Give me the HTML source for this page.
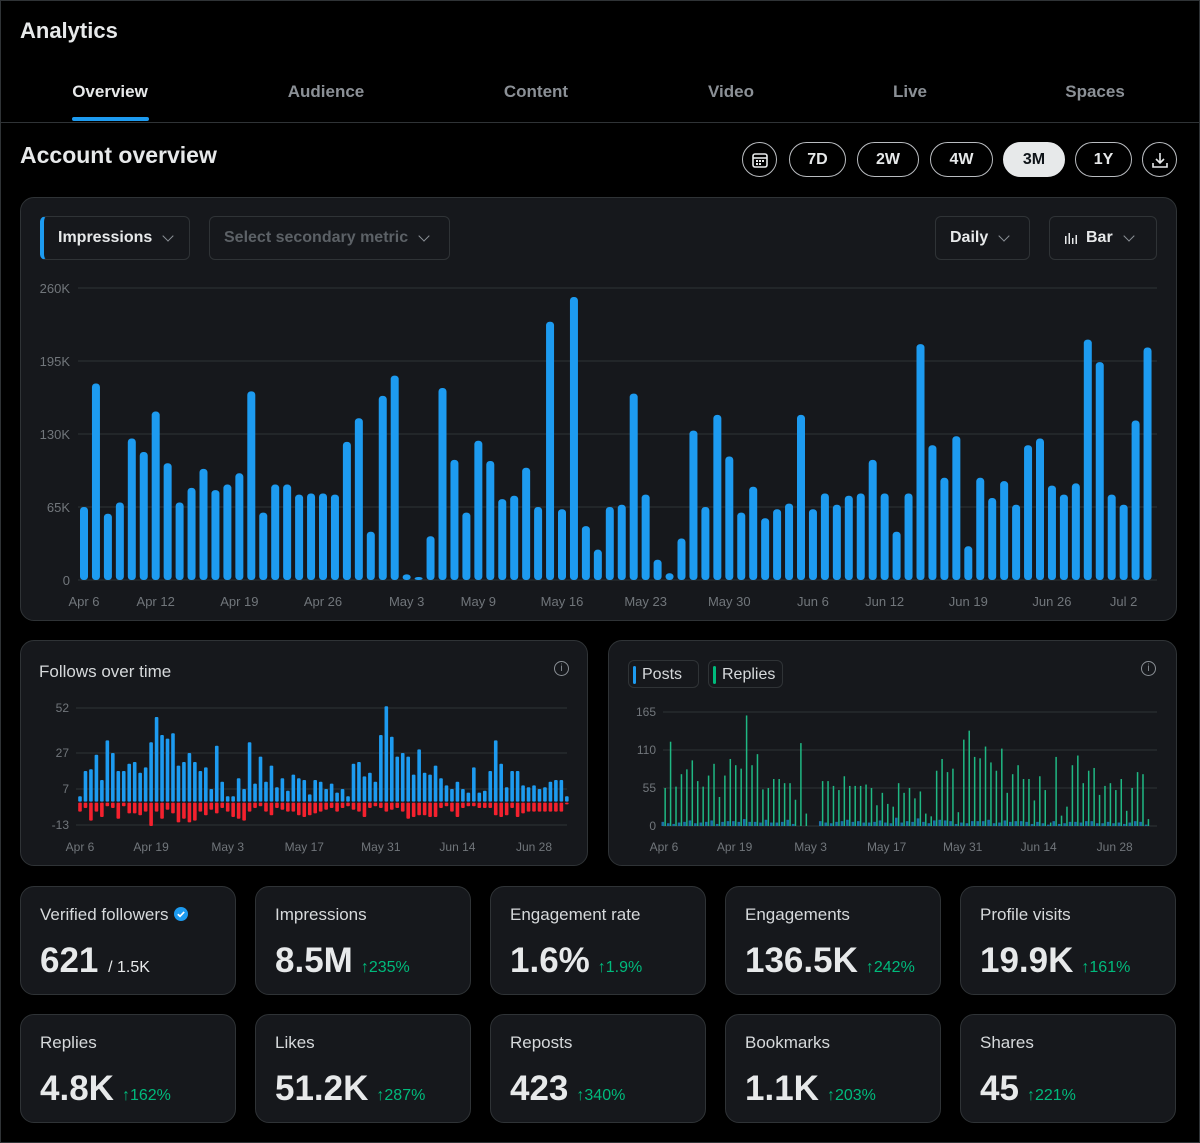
<!DOCTYPE html>
<html><head><meta charset="utf-8">
<style>
*{box-sizing:border-box;margin:0;padding:0}
body{width:1200px;height:1143px;background:#000;color:#e7e9ea;font-family:"Liberation Sans",sans-serif;position:relative;overflow:hidden}
.frame{position:absolute;left:0;top:0;width:1200px;height:1143px;border:1px solid #2f3336}
.abs{position:absolute}
.tab{position:absolute;top:82px;font-size:17px;color:#8b9096;transform:translateX(-50%);font-weight:bold}
.pill{position:absolute;top:142px;height:35px;border:1.5px solid #b9bcc0;border-radius:18px;font-weight:bold;font-size:16px;display:flex;align-items:center;justify-content:center;color:#e7e9ea}
.circ{position:absolute;top:142px;width:35px;height:35px;border:1.5px solid #b9bcc0;border-radius:50%;display:flex;align-items:center;justify-content:center}
.card{position:absolute;background:#16181c;border:1px solid #2f3336;border-radius:14px}
.dd{position:absolute;top:216px;height:44px;border:1px solid #2f3336;border-radius:6px;font-size:16px;font-weight:bold;display:flex;align-items:center;padding-left:14px}
.chev{display:inline-block;width:8px;height:8px;border-right:1.5px solid #8b9096;border-bottom:1.5px solid #8b9096;transform:rotate(45deg);margin-left:12px;margin-top:-5px}
.stat .lbl{position:absolute;left:19px;top:18px;font-size:17px;color:#d6d9db}
.stat .val{position:absolute;left:19px;top:54px;font-size:35px;font-weight:bold;color:#e7e9ea;white-space:nowrap}
.stat .chg{font-size:16px;color:#00ba7c;font-weight:normal;margin-left:8px}
svg text{font-family:"Liberation Sans",sans-serif}
</style></head><body>
<div class="frame"></div>
<div class="abs" style="left:20px;top:18px;font-size:22px;font-weight:bold">Analytics</div>
<div class="tab" style="left:110px;color:#e7e9ea">Overview</div>
<div class="tab" style="left:326px">Audience</div>
<div class="tab" style="left:536px">Content</div>
<div class="tab" style="left:731px">Video</div>
<div class="tab" style="left:910px">Live</div>
<div class="tab" style="left:1095px">Spaces</div>
<div class="abs" style="left:72px;top:117px;width:77px;height:4px;background:#1d9bf0;border-radius:2px"></div>
<div class="abs" style="left:0;top:122px;width:1200px;height:1px;background:#2f3336"></div>

<div class="abs" style="left:20px;top:142px;font-size:23px;font-weight:bold">Account overview</div>
<div class="circ" style="left:742px"><svg width="18" height="18" viewBox="0 0 18 18"><rect x="2" y="3" width="14" height="13" rx="2" fill="none" stroke="#e7e9ea" stroke-width="1.6"/><line x1="2" y1="7" x2="16" y2="7" stroke="#e7e9ea" stroke-width="1.6"/><g fill="#e7e9ea"><rect x="5" y="9" width="2" height="2"/><rect x="8" y="9" width="2" height="2"/><rect x="11" y="9" width="2" height="2"/><rect x="5" y="12" width="2" height="2"/><rect x="8" y="12" width="2" height="2"/></g></svg></div>
<div class="pill" style="left:789px;width:57px">7D</div>
<div class="pill" style="left:857px;width:62px">2W</div>
<div class="pill" style="left:930px;width:63px">4W</div>
<div class="pill" style="left:1003px;width:62px;background:#e7e9ea;color:#0f1419;border-color:#e7e9ea">3M</div>
<div class="pill" style="left:1075px;width:57px">1Y</div>
<div class="circ" style="left:1142px"><svg width="18" height="18" viewBox="0 0 18 18"><path d="M9 2v10M5 8l4 4 4-4M2 12v4h14v-4" fill="none" stroke="#e7e9ea" stroke-width="1.6"/></svg></div>

<div class="card" style="left:20px;top:197px;width:1157px;height:424px"></div>
<div class="dd" style="left:40px;width:150px;border-left:4px solid #1d9bf0">Impressions<span class="chev"></span></div>
<div class="dd" style="left:209px;width:241px;color:#5c6166">Select secondary metric<span class="chev"></span></div>
<div class="dd" style="left:935px;width:95px">Daily<span class="chev"></span></div>
<div class="dd" style="left:1049px;width:108px"><svg width="14" height="12" style="margin-right:8px"><g fill="#e7e9ea"><rect x="1" y="4" width="1.5" height="8"/><rect x="4.5" y="1" width="1.5" height="11"/><rect x="8" y="6" width="1.5" height="6"/><rect x="11.5" y="3" width="1.5" height="9"/></g></svg>Bar<span class="chev"></span></div>

<div class="card" style="left:20px;top:640px;width:568px;height:226px"></div>
<div class="abs" style="left:39px;top:662px;font-size:17px;color:#d6d9db">Follows over time</div>
<div class="card" style="left:608px;top:640px;width:569px;height:226px"></div>
<div class="abs" style="left:628px;top:660px;width:71px;height:28px;border:1px solid #2f3336;border-radius:6px;font-size:16px;padding:5px 0 0 13px;color:#d6d9db"><span style="position:absolute;left:4px;top:5px;width:3px;height:18px;background:#1d9bf0;border-radius:2px"></span>Posts</div>
<div class="abs" style="left:708px;top:660px;width:75px;height:28px;border:1px solid #2f3336;border-radius:6px;font-size:16px;padding:5px 0 0 13px;color:#d6d9db"><span style="position:absolute;left:4px;top:5px;width:3px;height:18px;background:#00ba7c;border-radius:2px"></span>Replies</div>
<div class="abs" style="left:554px;top:661px;width:15px;height:15px;border:1.3px solid #8b9096;border-radius:50%;font-size:10px;color:#8b9096;text-align:center;line-height:13px">i</div>
<div class="abs" style="left:1141px;top:661px;width:15px;height:15px;border:1.3px solid #8b9096;border-radius:50%;font-size:10px;color:#8b9096;text-align:center;line-height:13px">i</div>

<svg id="charts" class="abs" style="left:0;top:0" width="1200" height="1143"></svg>

<div class="card stat" style="left:20px;top:886px;width:216px;height:109px"><div class="lbl">Verified followers <svg width="16" height="16" viewBox="0 0 16 16" style="vertical-align:-2px"><circle cx="8" cy="8" r="7" fill="#1d9bf0"/><path d="M4.8 8.2l2.2 2.1 4.2-4.4" fill="none" stroke="#fff" stroke-width="1.7"/></svg></div><div class="val">621 <span style="font-size:16px;font-weight:normal">/ 1.5K</span></div></div>
<div class="card stat" style="left:255px;top:886px;width:216px;height:109px"><div class="lbl">Impressions</div><div class="val">8.5M<span class="chg">↑235%</span></div></div>
<div class="card stat" style="left:490px;top:886px;width:216px;height:109px"><div class="lbl">Engagement rate</div><div class="val">1.6%<span class="chg">↑1.9%</span></div></div>
<div class="card stat" style="left:725px;top:886px;width:216px;height:109px"><div class="lbl">Engagements</div><div class="val">136.5K<span class="chg">↑242%</span></div></div>
<div class="card stat" style="left:960px;top:886px;width:216px;height:109px"><div class="lbl">Profile visits</div><div class="val">19.9K<span class="chg">↑161%</span></div></div>
<div class="card stat" style="left:20px;top:1014px;width:216px;height:109px"><div class="lbl">Replies</div><div class="val">4.8K<span class="chg">↑162%</span></div></div>
<div class="card stat" style="left:255px;top:1014px;width:216px;height:109px"><div class="lbl">Likes</div><div class="val">51.2K<span class="chg">↑287%</span></div></div>
<div class="card stat" style="left:490px;top:1014px;width:216px;height:109px"><div class="lbl">Reposts</div><div class="val">423<span class="chg">↑340%</span></div></div>
<div class="card stat" style="left:725px;top:1014px;width:216px;height:109px"><div class="lbl">Bookmarks</div><div class="val">1.1K<span class="chg">↑203%</span></div></div>
<div class="card stat" style="left:960px;top:1014px;width:216px;height:109px"><div class="lbl">Shares</div><div class="val">45<span class="chg">↑221%</span></div></div>

<script>
const impressions=[65,175,59,69,126,114,150,104,69,82,99,80,85,95,168,60,85,85,76,77,77,76,123,144,43,164,182,5,2,39,171,107,60,124,106,72,75,100,65,230,63,252,48,27,65,67,166,76,18,6,37,133,65,147,110,60,83,55,63,68,147,63,77,67,75,77,107,77,43,77,210,120,91,128,30,91,73,88,67,120,126,84,76,86,214,194,76,67,142,207];
const mainTicks=[0,65,130,195,260];
const mainTickLabels=["0","65K","130K","195K","260K"];
const mainDateIdx=[0,6,13,20,27,33,40,47,54,61,67,74,81,87];
const mainDateLabels=["Apr 6","Apr 12","Apr 19","Apr 26","May 3","May 9","May 16","May 23","May 30","Jun 6","Jun 12","Jun 19","Jun 26","Jul 2"];
const followsGained=[3,17,18,26,12,34,27,17,17,21,22,16,19,33,47,37,35,38,20,22,27,22,17,19,7,31,11,3,3,13,7,33,10,25,11,20,8,13,6,15,13,12,4,12,11,7,10,5,7,3,21,22,14,16,11,37,53,36,25,27,25,15,29,16,15,20,13,9,7,11,7,5,19,5,6,17,34,21,8,17,17,9,8,9,7,8,11,12,12,3];
const followsLost=[-5,-3,-10,-5,-8,-2,-3,-9,-2,-6,-6,-7,-5,-13,-5,-9,-4,-6,-11,-9,-11,-10,-5,-7,-4,-6,-3,-5,-8,-9,-10,-5,-3,-2,-5,-7,-3,-4,-5,-5,-7,-8,-7,-6,-5,-4,-3,-5,-3,-2,-4,-5,-8,-3,-2,-3,-5,-4,-3,-5,-9,-8,-7,-7,-8,-8,-3,-2,-5,-8,-3,-2,-2,-3,-3,-3,-7,-8,-7,-3,-8,-6,-5,-5,-5,-5,-5,-5,-5,-1];
const followTicks=[-13,7,27,52];
const replies=[55,122,57,75,82,95,65,57,73,90,42,73,97,88,83,160,88,104,53,55,68,68,62,62,38,120,18,0,0,65,65,58,52,72,58,58,58,60,55,30,48,32,28,62,48,55,40,50,18,14,80,97,78,83,20,125,138,100,98,115,92,80,112,48,75,88,68,68,37,72,52,5,100,15,28,88,102,62,80,84,45,58,62,52,68,22,55,78,75,10];
const posts=[6,4,3,5,6,8,4,5,6,8,3,6,7,7,6,10,6,6,5,9,5,5,6,9,3,0,0,0,0,7,5,4,6,7,9,6,7,5,5,6,8,5,4,12,5,7,6,11,6,4,8,9,8,7,3,5,4,7,7,7,9,4,5,8,6,7,7,6,3,6,4,2,7,3,4,6,6,5,7,7,4,4,6,4,5,3,5,7,6,2];
const postTicks=[0,55,110,165];
const smallDateIdx=[0,13,27,41,55,69,83];
const smallDateLabels=["Apr 6","Apr 19","May 3","May 17","May 31","Jun 14","Jun 28"];

const NS="http://www.w3.org/2000/svg";
const svg=document.getElementById('charts');
function mk(tag,attrs,txt){const e=document.createElementNS(NS,tag);for(const k in attrs)e.setAttribute(k,attrs[k]);if(txt!==undefined)e.textContent=txt;svg.appendChild(e);return e;}

const mx=i=>84+i*11.95, my=v=>580-v*(292/260);
mainTicks.forEach((t,k)=>{
  const l=mk('line',{x1:78,x2:1157,y1:my(t),y2:my(t),stroke:'#2f3336','stroke-width':1});
  
  
  const tx=mk('text',{x:70,y:my(t)+5,'text-anchor':'end','font-size':13,fill:'#71767b'},mainTickLabels[k]);
  
  
});
impressions.forEach((v,i)=>{
  const h=Math.max(my(0)-my(v),3);
  const r=mk('rect',{x:mx(i)-4,y:my(0)-h,width:8,height:h,rx:3.5,fill:'#1d9bf0'});
  
  
});
mainDateIdx.forEach((d,k)=>{
  const t=mk('text',{x:mx(d),y:606,'text-anchor':'middle','font-size':13,fill:'#71767b'},mainDateLabels[k]);
  
  
});

const fx=i=>80+i*5.47, fy=v=>801.6-v*1.8;
followTicks.forEach(t=>{
  const l=mk('line',{x1:76,x2:567,y1:fy(t),y2:fy(t),stroke:'#2f3336','stroke-width':1});
  
  
  const tx=mk('text',{x:69,y:fy(t)+4,'text-anchor':'end','font-size':12,fill:'#71767b'},String(t));
  
  
});
followsGained.forEach((v,i)=>{
  const r=mk('rect',{x:fx(i)-1.8,y:fy(v),width:3.6,height:fy(0)-fy(v),rx:1,fill:'#1d9bf0'});
  
  
});
followsLost.forEach((v,i)=>{
  const r=mk('rect',{x:fx(i)-1.8,y:fy(0)+1,width:3.6,height:fy(v)-fy(0),rx:1,fill:'#f4212e'});
  
  
});
smallDateIdx.forEach((d,k)=>{
  const t=mk('text',{x:fx(d),y:851,'text-anchor':'middle','font-size':12,fill:'#71767b'},smallDateLabels[k]);
  
  
});

const px=i=>664+i*5.43, py=v=>826-v*(114/165);
postTicks.forEach(t=>{
  const l=mk('line',{x1:663,x2:1157,y1:py(t),y2:py(t),stroke:'#2f3336','stroke-width':1});
  
  
  const tx=mk('text',{x:656,y:py(t)+4,'text-anchor':'end','font-size':12,fill:'#71767b'},String(t));
  
  
});
posts.forEach((v,i)=>{
  if(v<=0)return;
  const r=mk('rect',{x:px(i)-2.5,y:py(v),width:2.6,height:py(0)-py(v),fill:'#1a6fa8'});
  
  
});
replies.forEach((v,i)=>{
  if(v<=0)return;
  const r=mk('rect',{x:px(i)+0.4,y:py(v),width:1.5,height:py(0)-py(v),fill:'#1fb883'});
  
  
});
smallDateIdx.forEach((d,k)=>{
  const t=mk('text',{x:px(d),y:851,'text-anchor':'middle','font-size':12,fill:'#71767b'},smallDateLabels[k]);
  
  
});
</script>
</body></html>
